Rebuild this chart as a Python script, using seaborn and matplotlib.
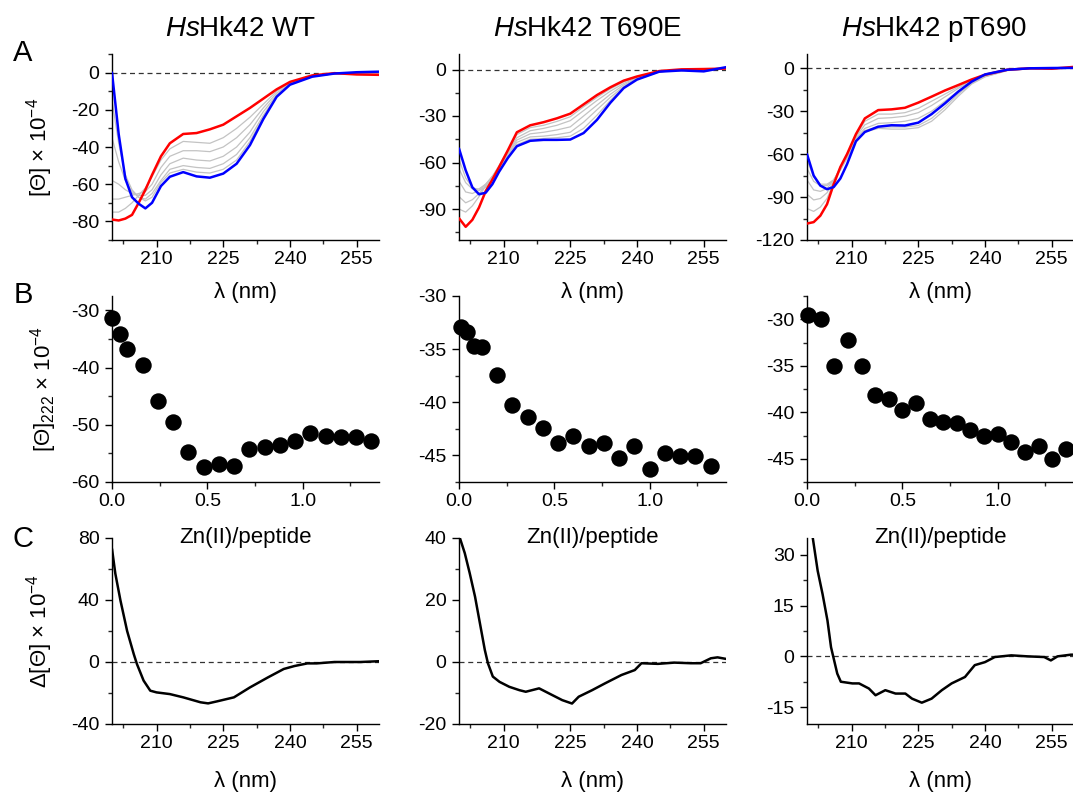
import numpy as np
import pandas as pd
import matplotlib
matplotlib.use('Agg')
import matplotlib.pyplot as plt
from matplotlib.ticker import MultipleLocator
import seaborn as sns

# ---- 数据 ----
titles = ['$\\mathit{Hs}$Hk42 WT', '$\\mathit{Hs}$Hk42 T690E', '$\\mathit{Hs}$Hk42 pT690']

# A 行: CD 光谱, 红 = 起始, 蓝 = 终点, 灰 = 中间滴定
wl_a = [200, 201.5, 203, 204.5, 206, 207.5, 209, 211, 213, 216, 219, 222,
        225, 228, 231, 234, 237, 240, 245, 250, 255, 260]

a1_red = [-79, -79.5, -78.5, -76.5, -70, -63, -55, -45, -38, -33, -32.5, -30.5,
          -28, -23.5, -19, -14, -9, -5, -1.5, -0.3, -1, -1.2]
a1_blue = [0, -33, -57, -67, -70.5, -73, -70, -61, -56, -53.5, -55.8, -56.5,
           -54.3, -49, -39, -25, -13, -6.5, -2.2, -0.5, 0.2, 0.5]
a1_grey = [
    [-75, -75, -73, -70, -66, -62, -56, -47, -41, -37, -37.5, -38, -35, -30, -24, -17, -10, -5.5, -2, -0.5, -0.8, -1],
    [-68, -68, -67, -66, -65, -64, -60, -51, -45, -42, -42, -42.5, -40, -35, -28, -19, -11, -6, -2, -0.6, -0.6, -0.8],
    [-58, -60, -63, -65, -66, -66, -63, -55, -49, -46, -47, -47.5, -45, -40, -32, -21, -12, -6, -2, -0.6, -0.5, -0.6],
    [-35, -48, -58, -64, -67, -68, -65, -58, -52, -50, -51, -51.5, -49, -44, -35, -23, -12.5, -6.3, -2.1, -0.5, -0.3, -0.3],
    [-15, -38, -55, -63, -67, -69, -67, -59, -54, -52, -53.5, -54, -52, -47, -37, -24, -13, -6.4, -2.2, -0.5, -0.1, 0],
]

a2_red = [-96, -101.5, -97, -89, -78.5, -71, -63, -52, -40.5, -36, -34, -31.5,
          -28.5, -22.5, -16.5, -11.5, -7.2, -4.5, -1, 0.1, 0.3, 0.6]
a2_blue = [-51, -65, -76, -80.5, -79.5, -74, -66, -57, -49.5, -46, -45.4, -45.4,
           -45.2, -41, -32.5, -21.5, -12, -6.5, -1.4, -0.6, -1.2, 1.5]
a2_grey = [
    [-90, -92, -88, -82, -75, -69, -62, -52, -42, -37.5, -36, -33.5, -30.5, -24, -18, -12.5, -8, -4.8, -1.3, 0, 0.3, 0.5],
    [-82, -86, -84, -80, -75, -69, -63, -53, -44, -39.5, -38, -36, -33, -26.5, -20, -14, -9, -5.3, -1.4, -0.2, 0.1, 0.5],
    [-72, -79, -80, -78, -74, -69, -63, -54, -45.5, -41.5, -40.5, -39, -37, -30, -23, -16, -10, -5.8, -1.5, -0.3, -0.2, 0.6],
    [-64, -73, -77, -77, -74, -69, -64, -55, -47, -43.5, -43, -42, -40.5, -34, -26, -18, -11, -6.2, -1.5, -0.4, -0.5, 0.8],
    [-58, -70, -76, -78, -76, -71, -65, -56, -48.5, -45, -44.5, -44, -43, -38, -29.5, -20, -11.5, -6.4, -1.5, -0.5, -0.8, 1.0],
]

a3_red = [-108.5, -107.5, -103, -95, -81, -69, -60, -46, -35, -29.2, -28.7, -27.6,
          -24, -19.8, -15.5, -11.7, -7.8, -4.5, -1, 0, -0.3, 1]
a3_blue = [-60, -75, -82, -84.5, -83, -77, -67, -51, -44.5, -40.8, -39.8, -40,
           -38, -32, -24.5, -16.3, -9.3, -4.3, -1, 0, 0.2, 0.3]
a3_grey = [
    [-98, -100, -97, -91, -80, -69, -60, -47, -37, -32, -32, -31, -28, -23, -18, -13, -8.5, -5, -1.2, 0, 0, 0.8],
    [-88, -92, -91, -87, -79, -69, -60, -48, -39.5, -35, -34.5, -33.5, -31, -26, -20, -14, -9, -5.2, -1.3, -0.2, 0, 0.6],
    [-78, -85, -86, -84, -78, -70, -61, -49, -42, -38.5, -38, -37, -35, -30, -23, -16, -10, -5.5, -1.4, -0.2, 0.1, 0.5],
    [-70, -79, -82, -82, -78, -71, -62, -50, -43.5, -41, -41, -41, -40, -35, -27, -18, -10.5, -5.8, -1.5, -0.3, 0.1, 0.4],
    [-64, -76, -81, -81, -78, -71, -63, -51, -44.5, -42, -42.5, -42.5, -41.5, -37, -29, -19.5, -11, -6, -1.6, -0.3, 0.1, 0.4],
]

# B 行: [Θ]222 随 Zn(II)/peptide 变化
b1_x = [0, 0.04, 0.08, 0.16, 0.24, 0.32, 0.40, 0.48, 0.56, 0.64, 0.72, 0.80,
        0.88, 0.96, 1.04, 1.12, 1.20, 1.28, 1.36]
b1_y = [-31.3, -34.1, -36.8, -39.5, -45.8, -49.5, -54.8, -57.4, -56.8, -57.2, -54.3,
        -53.8, -53.5, -52.8, -51.5, -52.0, -52.1, -52.2, -52.8]
b2_x = [0.01, 0.04, 0.08, 0.12, 0.20, 0.28, 0.36, 0.44, 0.52, 0.60, 0.68, 0.76,
        0.84, 0.92, 1.00, 1.08, 1.16, 1.24, 1.32]
b2_y = [-32.9, -33.4, -34.7, -34.8, -37.4, -40.3, -41.4, -42.4, -43.8, -43.2, -44.1,
        -43.85, -45.2, -44.1, -46.3, -44.75, -45.05, -45.05, -46.0]
b3_x = [0.007, 0.071, 0.143, 0.214, 0.286, 0.357, 0.429, 0.500, 0.571, 0.643, 0.714,
        0.786, 0.857, 0.929, 1.000, 1.071, 1.143, 1.214, 1.286, 1.357]
b3_y = [-29.5, -30.0, -35.0, -32.2, -35.0, -38.1, -38.6, -39.8, -39.0, -40.7, -41.0,
        -41.2, -41.9, -42.5, -42.3, -43.2, -44.25, -43.65, -45.0, -43.9]

# C 行: 差谱
c1_x = [200, 200.75, 201.9, 203.4, 204.9, 205.6, 207.1, 208.6, 210, 213, 216, 219.9,
        221.6, 223.6, 227.4, 231, 235, 238.6, 241, 243.9, 246, 250, 255.8, 260]
c1_y = [73, 57, 39.7, 20, 5, -1.3, -12, -18.5, -19.6, -20.7, -22.8, -26, -26.7, -25.4,
        -22.8, -16.4, -10, -4.5, -2.6, -0.9, -0.9, 0, 0, 0.5]
c2_x = [200.2, 201.3, 202.4, 203.6, 204.7, 205.8, 206.5, 207.6, 209.1, 211.3, 213.6,
        215, 218, 221, 223.2, 225.4, 226.9, 229.9, 232.8, 236.5, 239.5, 241, 244.7,
        248.4, 252.1, 254.3, 256.6, 258.1, 260]
c2_y = [40, 35.1, 28.7, 21.1, 12.5, 3.9, -0.4, -4.7, -6.4, -8, -9.1, -9.6, -8.5, -10.7,
        -12.3, -13.4, -11.2, -9.1, -6.9, -4.2, -2.6, -0.4, -0.6, -0.2, -0.4, -0.4, 1.2, 1.5, 1.0]
c3_x = [200.5, 201.3, 202.4, 203.5, 204.6, 205.4, 206.1, 206.8, 207.6, 210.2, 211.7,
        213.9, 215.4, 217.6, 219.9, 222.1, 223.6, 225.8, 228, 230.3, 232.5, 235.5,
        237.7, 240, 242.2, 245.9, 249.6, 253.3, 254.8, 256.3, 259.3, 260]
c3_y = [44, 35, 25.3, 18.4, 10.6, 2.7, -1.2, -5.1, -7.5, -8, -8, -9.5, -11.5, -10, -11,
        -11, -12.5, -13.7, -12.5, -10, -8, -6.1, -2.6, -1.7, -0.2, 0.3, 0, -0.2, -1.2, 0, 0.5, 0.5]

# 坐标范围
a_ylims = [(-90, 10), (-110, 10), (-120, 10)]
a_ysteps = [20, 30, 30]
b_ylims = [(-60, -27.5), (-47.5, -30), (-47.5, -27.5)]
b_ysteps = [10, 5, 5]
c_ylims = [(-40, 80), (-20, 40), (-20, 35)]
c_ysteps = [40, 20, 15]

# ---- 样式 ----
sns.set_style('ticks')
plt.rcParams['font.family'] = ['Liberation Sans', 'DejaVu Sans']
plt.rcParams['mathtext.fontset'] = 'custom'
plt.rcParams['mathtext.rm'] = 'Liberation Sans'
plt.rcParams['mathtext.it'] = 'Liberation Sans:italic'
plt.rcParams['axes.unicode_minus'] = False
plt.rcParams['axes.linewidth'] = 1.0
plt.rcParams['text.color'] = 'black'
plt.rcParams['axes.labelcolor'] = 'black'

fig = plt.figure(figsize=(10.73, 7.92), dpi=100)
W, H = 1073, 792
lefts = [112, 459, 807]
aw = 267
tops = [54, 296, 538]
ah = 186


def make_ax(row, col):
    l = lefts[col] / W
    b = 1 - (tops[row] + ah) / H
    ax = fig.add_axes([l, b, aw / W, ah / H])
    ax.set_facecolor('none')  # 透明, 不遮挡上一行的 x 标签
    return ax


def style(ax, xstep, ystep):
    sns.despine(ax=ax)
    ax.xaxis.set_major_locator(MultipleLocator(xstep))
    ax.xaxis.set_minor_locator(MultipleLocator(xstep / 2))
    ax.yaxis.set_major_locator(MultipleLocator(ystep))
    ax.yaxis.set_minor_locator(MultipleLocator(ystep / 2))
    ax.tick_params(which='major', length=5, width=1, direction='out', labelsize=14, colors='black')
    ax.tick_params(which='minor', length=3, width=1, direction='out')
    ax.tick_params(axis='x', pad=3)
    ax.tick_params(axis='y', pad=4)
    for s in ax.spines.values():
        s.set_color('black')


a_red = [a1_red, a2_red, a3_red]
a_blue = [a1_blue, a2_blue, a3_blue]
a_grey = [a1_grey, a2_grey, a3_grey]
b_x = [b1_x, b2_x, b3_x]
b_y = [b1_y, b2_y, b3_y]
c_x = [c1_x, c2_x, c3_x]
c_y = [c1_y, c2_y, c3_y]

for col in range(3):
    # A
    ax = make_ax(0, col)
    ax.axhline(0, ls=(0, (4, 3)), color='#333333', lw=0.9, zorder=1)
    for g in a_grey[col]:
        sns.lineplot(x=wl_a, y=g, ax=ax, color='#c3c3c3', lw=0.9, zorder=2)
    sns.lineplot(x=wl_a, y=a_red[col], ax=ax, color='#ff0000', lw=1.8, zorder=3)
    sns.lineplot(x=wl_a, y=a_blue[col], ax=ax, color='#0000ff', lw=1.8, zorder=3)
    ax.set_xlim(200, 260)
    ax.set_ylim(*a_ylims[col])
    style(ax, 15, a_ysteps[col])
    ax.set_xlabel('λ (nm)', fontsize=16)
    ax.xaxis.set_label_coords(0.5, -0.225)
    if col == 0:
        ax.set_ylabel('[Θ] × 10$^{-4}$', fontsize=16)
        ax.yaxis.set_label_coords(-0.215, 0.5)
    else:
        ax.set_ylabel('')

    # B
    ax = make_ax(1, col)
    sns.scatterplot(x=b_x[col], y=b_y[col], ax=ax, color='black', s=140,
                    edgecolor='black', linewidth=0, clip_on=False, zorder=3)
    ax.set_xlim(0, 1.4)
    ax.set_ylim(*b_ylims[col])
    style(ax, 0.5, b_ysteps[col])
    ax.set_xlabel('Zn(II)/peptide', fontsize=16)
    ax.xaxis.set_label_coords(0.5, -0.24)
    if col == 0:
        ax.set_ylabel('[Θ]$_{222}$ × 10$^{-4}$', fontsize=16)
        ax.yaxis.set_label_coords(-0.2, 0.5)
    else:
        ax.set_ylabel('')

    # C
    ax = make_ax(2, col)
    ax.axhline(0, ls=(0, (4, 3)), color='#333333', lw=0.9, zorder=1)
    sns.lineplot(x=c_x[col], y=c_y[col], ax=ax, color='black', lw=1.8, zorder=3)
    ax.set_xlim(200, 260)
    ax.set_ylim(*c_ylims[col])
    style(ax, 15, c_ysteps[col])
    ax.set_xlabel('λ (nm)', fontsize=16)
    ax.xaxis.set_label_coords(0.5, -0.255)
    if col == 0:
        ax.set_ylabel('Δ[Θ] × 10$^{-4}$', fontsize=16)
        ax.yaxis.set_label_coords(-0.215, 0.5)
    else:
        ax.set_ylabel('')

# 标题与面板字母
title_x = [240, 587, 934]
for tx, t in zip(title_x, titles):
    fig.text(tx / W, 1 - 29 / H, t, fontsize=20, ha='center', va='center')
for letter, ly in zip(['A', 'B', 'C'], [53, 295, 539]):
    fig.text(23 / W, 1 - ly / H, letter, fontsize=21, ha='center', va='center')

fig.savefig('out.png', dpi=100)
